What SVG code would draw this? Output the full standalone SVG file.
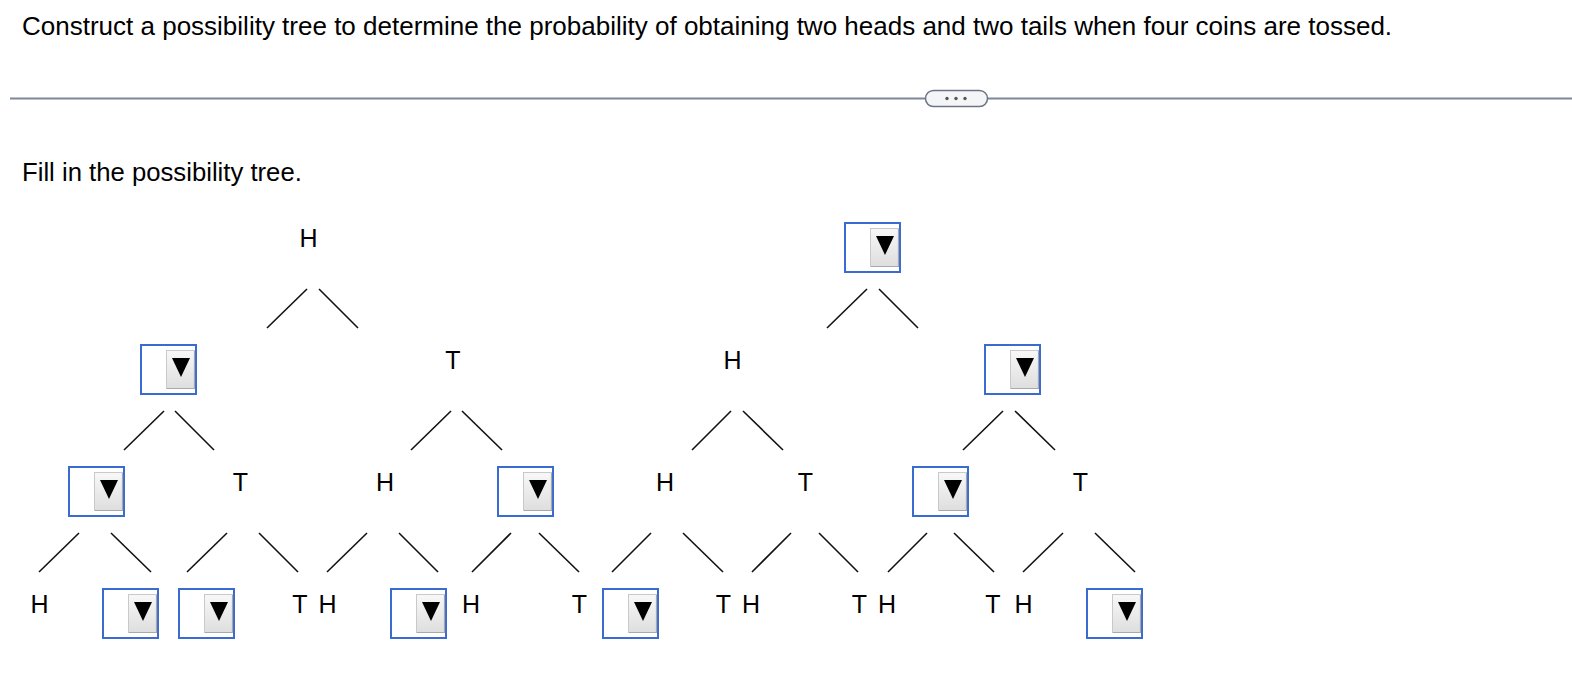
<svg xmlns="http://www.w3.org/2000/svg" xmlns:xlink="http://www.w3.org/1999/xlink" width="1572" height="688" viewBox="0 0 1572 688">
<style>
.t{font-family:"Liberation Sans",Arial,Helvetica,sans-serif;fill:#000}
.lbl{font-size:25px;text-anchor:middle}
.con line{stroke:#111;stroke-width:1.6;stroke-linecap:butt}
</style>
<defs>
<linearGradient id="btn" x1="0" y1="0" x2="0" y2="1">
<stop offset="0" stop-color="#f8f8f8"/>
<stop offset="1" stop-color="#dedede"/>
</linearGradient>
<symbol id="sel" overflow="visible">
<rect x="1" y="1" width="55" height="49" fill="#fff" stroke="#3a6bd0" stroke-width="2"/>
<rect x="26.5" y="6.5" width="28" height="38" fill="url(#btn)" stroke="#c9c9c9" stroke-width="1"/>
<path d="M27 44.5H55M54.5 7V45" stroke="#a8a8a8" stroke-width="1.2" fill="none"/>
<path d="M32 14H50L41 33Z" fill="#000"/>
</symbol>
</defs>
<rect width="1572" height="688" fill="#fff"/>
<text class="t" x="22" y="35" font-size="26">Construct a possibility tree to determine the probability of obtaining two heads and two tails when four coins are tossed.</text>
<g id="divider">
<line x1="10" y1="98.5" x2="1572" y2="98.5" stroke="#7e8699" stroke-width="2"/>
<rect x="925.5" y="90.5" width="62" height="16" rx="8" fill="#f4f5f7" stroke="#6b7385" stroke-width="1.5"/>
<circle cx="947" cy="98.5" r="1.7" fill="#555"/>
<circle cx="956" cy="98.5" r="1.7" fill="#555"/>
<circle cx="965" cy="98.5" r="1.7" fill="#555"/>
</g>
<text class="t" x="22" y="181" font-size="25.7">Fill in the possibility tree.</text>
<g id="connectors" class="con">
<line x1="267" y1="328" x2="307" y2="289"/><line x1="319" y1="289" x2="358" y2="328"/>
<line x1="827" y1="328" x2="867" y2="289"/><line x1="879" y1="289" x2="918" y2="328"/>
<line x1="124" y1="450" x2="164" y2="411"/><line x1="175" y1="411" x2="214" y2="450"/>
<line x1="411" y1="450" x2="451" y2="411"/><line x1="462" y1="411" x2="502" y2="450"/>
<line x1="692" y1="450" x2="731" y2="411"/><line x1="743" y1="411" x2="783" y2="450"/>
<line x1="963" y1="450" x2="1003" y2="411"/><line x1="1015" y1="411" x2="1055" y2="450"/>
<line x1="39" y1="572" x2="79" y2="533"/><line x1="111" y1="533" x2="151" y2="572"/>
<line x1="187" y1="572" x2="227" y2="533"/><line x1="259" y1="533" x2="298" y2="572"/>
<line x1="327" y1="572" x2="367" y2="533"/><line x1="399" y1="533" x2="438" y2="572"/>
<line x1="472" y1="572" x2="511" y2="533"/><line x1="539" y1="533" x2="579" y2="572"/>
<line x1="612" y1="572" x2="651" y2="533"/><line x1="683" y1="533" x2="723" y2="572"/>
<line x1="752" y1="572" x2="791" y2="533"/><line x1="819" y1="533" x2="858" y2="572"/>
<line x1="888" y1="572" x2="927" y2="533"/><line x1="954" y1="533" x2="994" y2="572"/>
<line x1="1023" y1="572" x2="1063" y2="533"/><line x1="1095" y1="533" x2="1135" y2="572"/>
</g>
<g id="l1-a"><text class="t lbl" x="308.5" y="247">H</text></g>
<g id="l1-b"><use href="#sel" xlink:href="#sel" x="844" y="222"/></g>
<g id="l2-a"><use href="#sel" xlink:href="#sel" x="140" y="344"/></g>
<g id="l2-b"><text class="t lbl" x="453" y="369">T</text></g>
<g id="l2-c"><text class="t lbl" x="732.5" y="369">H</text></g>
<g id="l2-d"><use href="#sel" xlink:href="#sel" x="984" y="344"/></g>
<g id="l3-a"><use href="#sel" xlink:href="#sel" x="68" y="466"/></g>
<g id="l3-b"><text class="t lbl" x="240.5" y="491">T</text></g>
<g id="l3-c"><text class="t lbl" x="385" y="491">H</text></g>
<g id="l3-d"><use href="#sel" xlink:href="#sel" x="497" y="466"/></g>
<g id="l3-e"><text class="t lbl" x="665" y="491">H</text></g>
<g id="l3-f"><text class="t lbl" x="805.5" y="491">T</text></g>
<g id="l3-g"><use href="#sel" xlink:href="#sel" x="912" y="466"/></g>
<g id="l3-h"><text class="t lbl" x="1080.5" y="491">T</text></g>
<g id="l4-1"><text class="t lbl" x="39.5" y="613">H</text></g>
<g id="l4-2"><use href="#sel" xlink:href="#sel" x="102" y="588"/></g>
<g id="l4-3"><use href="#sel" xlink:href="#sel" x="178" y="588"/></g>
<g id="l4-4"><text class="t lbl" x="300" y="613">T</text></g>
<g id="l4-5"><text class="t lbl" x="327.5" y="613">H</text></g>
<g id="l4-6"><use href="#sel" xlink:href="#sel" x="390" y="588"/></g>
<g id="l4-7"><text class="t lbl" x="471" y="613">H</text></g>
<g id="l4-8"><text class="t lbl" x="579.5" y="613">T</text></g>
<g id="l4-9"><use href="#sel" xlink:href="#sel" x="602" y="588"/></g>
<g id="l4-10"><text class="t lbl" x="723.5" y="613">T</text></g>
<g id="l4-11"><text class="t lbl" x="751" y="613">H</text></g>
<g id="l4-12"><text class="t lbl" x="859.5" y="613">T</text></g>
<g id="l4-13"><text class="t lbl" x="887" y="613">H</text></g>
<g id="l4-14"><text class="t lbl" x="993" y="613">T</text></g>
<g id="l4-15"><text class="t lbl" x="1023.5" y="613">H</text></g>
<g id="l4-16"><use href="#sel" xlink:href="#sel" x="1086" y="588"/></g>
</svg>
